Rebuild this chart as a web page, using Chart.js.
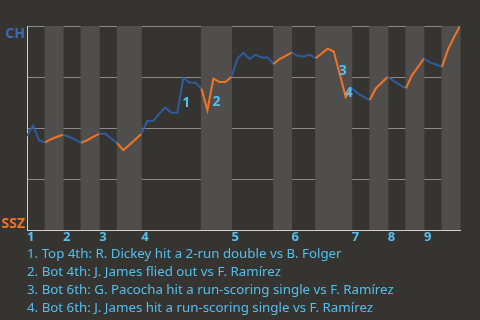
<!DOCTYPE html>
<html>
<head>
<meta charset="utf-8">
<script src="https://cdn.jsdelivr.net/npm/chart.js@4.4.1/dist/chart.umd.min.js"></script>
<style>
  html, body { margin: 0; padding: 0; background: #363430; }
  #wrap { width: 480px; height: 320px; }
</style>
</head>
<body>
<div id="wrap"><canvas id="wp-chart" width="480" height="320"></canvas></div>
<script>
// CH win probability (%) after each plate appearance
const wpCH = [
  46.1, 51.1, 44.0, 42.9,            // top 1
  44.5, 45.7, 46.7,                  // bot 1
  45.7, 44.3, 42.7,                  // top 2
  44.0, 45.7, 47.1,                  // bot 2
  47.3, 44.9, 42.6,                  // top 3
  39.2, 41.7, 44.4, 47.1,            // bot 3
  53.4, 53.6, 56.9, 60.1, 57.5, 57.5, 74.7, 72.3, 72.2, 69.3, // top 4
  58.8, 74.2, 72.5, 72.5, 75.1,      // bot 4
  84.1, 86.9, 83.7, 86.0, 84.5, 84.5, 81.4, // top 5
  83.8, 85.3, 86.9,                  // bot 5
  85.4, 85.0, 86.0, 84.2,            // top 6
  86.5, 88.9, 87.5, 76.5, 65.2, 69.6, // bot 6
  67.0, 65.3, 63.7,                  // top 7
  69.4, 72.3, 75.1,                  // bot 7
  73.0, 71.1, 69.5,                  // top 8
  75.7, 79.9, 84.0,                  // bot 8
  82.2, 81.1, 80.0,                  // top 9
  88.5, 94.5, 100                    // bot 9
]

// plate appearance index where each half inning starts (last = end of game)
const halfInningStarts = [0, 3, 6, 9, 12, 15, 19, 29, 34, 41, 44, 48, 54, 57, 60, 63, 66, 69, 72]
const innings = ['1', '2', '3', '4', '5', '6', '7', '8', '9']

// key plays: index of the plate appearance that ends the marked segment
const notePlays = [26, 31, 52, 53]
const notes = [
  '1. Top 4th: R. Dickey hit a 2-run double vs B. Folger',
  '2. Bot 4th: J. James flied out vs F. Ramírez',
  '3. Bot 6th: G. Pacocha hit a run-scoring single vs F. Ramírez',
  '4. Bot 6th: J. James hit a run-scoring single vs F. Ramírez'
]

const awayTeam = 'CH'
const homeTeam = 'SSZ'

const BLUE = '#2e5c9e'
const ORANGE = '#f07424'
const LABEL = '#55bfee'
const FONT = "'Noto Sans', 'DejaVu Sans', sans-serif"

const inningStarts = innings.map((_, i) => halfInningStarts[i * 2])

// which half inning (0 = top 1st) a plate appearance position falls in
const halfOf = (x) => {
  for (let i = 0; i < halfInningStarts.length - 1; i++) {
    if (x >= halfInningStarts[i] && x < halfInningStarts[i + 1]) return i
  }
  return halfInningStarts.length - 2
}

// shaded bands for bottom halves, team labels, play markers
const decorations = {
  id: 'decorations',
  beforeDatasetsDraw(chart) {
    const { ctx, chartArea, scales } = chart
    ctx.save()
    ctx.fillStyle = '#504e4c'
    for (let i = 1; i < halfInningStarts.length - 1; i += 2) {
      const x0 = scales.x.getPixelForValue(halfInningStarts[i])
      const x1 = scales.x.getPixelForValue(halfInningStarts[i + 1])
      ctx.fillRect(x0 - 0.5, chartArea.top, x1 - x0 + 1, chartArea.bottom - chartArea.top)
    }
    ctx.restore()
  },
  afterDraw(chart) {
    const { ctx, chartArea, scales } = chart
    ctx.save()
    ctx.font = `bold 14px ${FONT}`
    ctx.textAlign = 'right'
    ctx.textBaseline = 'alphabetic'
    ctx.fillStyle = '#3a6db4'
    ctx.fillText(awayTeam, chartArea.left - 2, scales.y.getPixelForValue(100) + 12)
    ctx.fillStyle = ORANGE
    ctx.fillText(homeTeam, chartArea.left - 2, scales.y.getPixelForValue(0) - 2)

    // numbered markers beside the key plays
    ctx.textAlign = 'left'
    ctx.textBaseline = 'middle'
    ctx.fillStyle = LABEL
    notePlays.forEach((k, i) => {
      const mx = (scales.x.getPixelForValue(k - 1) + scales.x.getPixelForValue(k)) / 2
      const my = (scales.y.getPixelForValue(wpCH[k - 1]) + scales.y.getPixelForValue(wpCH[k])) / 2
      ctx.fillText(String(i + 1), mx + 2, my + 8)
    })
    ctx.restore()
  }
}

const ctx = document.getElementById('wp-chart').getContext('2d')
const chart = new Chart(ctx, {
  type: 'line',
  data: {
    datasets: [{
      data: wpCH.map((v, i) => ({ x: i, y: v })),
      borderWidth: 2,
      pointRadius: 0,
      tension: 0,
      borderColor: BLUE,
      segment: {
        borderColor: (c) => halfOf((c.p0.parsed.x + c.p1.parsed.x) / 2) % 2 ? ORANGE : BLUE
      }
    }]
  },
  options: {
    responsive: false,
    animation: false,
    events: [],
    layout: { padding: { left: 27, right: 20, top: 26, bottom: 0 } },
    plugins: {
      legend: { display: false },
      tooltip: { enabled: false },
      title: {
        display: true,
        position: 'bottom',
        align: 'start',
        text: notes,
        color: LABEL,
        font: { family: FONT, size: 13.3, weight: 'normal', lineHeight: '18px' },
        padding: { top: 0, bottom: 2.5 }
      }
    },
    scales: {
      x: {
        type: 'linear',
        min: 0,
        max: halfInningStarts[halfInningStarts.length - 1],
        afterBuildTicks: (scale) => { scale.ticks = inningStarts.map(v => ({ value: v })) },
        ticks: {
          autoSkip: false,
          maxRotation: 0,
          align: 'start',
          padding: 1.25,
          color: LABEL,
          font: { family: FONT, size: 13, weight: 'bold', lineHeight: 1 },
          callback: (v) => innings[inningStarts.indexOf(v)]
        },
        grid: { display: false, drawTicks: false },
        border: { display: true, color: '#cfcfcf', width: 1 }
      },
      y: {
        min: 0,
        max: 100,
        ticks: { display: false, stepSize: 25 },
        grid: {
          drawTicks: false,
          color: (c) => c.tick.value === 0 ? 'rgba(0,0,0,0)' : '#8d8b88',
          lineWidth: 1
        },
        border: { display: true, color: '#cfcfcf', width: 1 }
      }
    }
  },
  plugins: [decorations]
})
</script>
</body>
</html>
